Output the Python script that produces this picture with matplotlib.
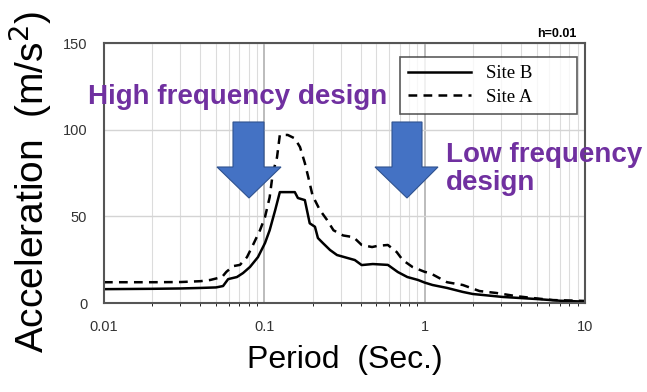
import matplotlib.pyplot as plt
from matplotlib.patches import Polygon

# response spectra (period in s, acceleration in m/s2)
site_b_t = [0.01, 0.02, 0.03, 0.04, 0.05, 0.0553, 0.0595, 0.0675, 0.0737, 0.0814, 0.0913,
            0.101, 0.108, 0.117, 0.125, 0.155, 0.162, 0.179, 0.192, 0.207, 0.216, 0.232,
            0.257, 0.284, 0.33, 0.367, 0.405, 0.475, 0.59, 0.68, 0.78, 0.91, 1.0, 1.12,
            1.38, 1.73, 2.0, 3.07, 5.0, 7.0, 10.0]
site_b_a = [8.0, 8.2, 8.4, 8.7, 9.0, 9.8, 13.8, 15.0, 17.3, 20.8, 26.5,
            34.6, 42.0, 53.7, 64.0, 64.0, 60.6, 59.4, 46.0, 44.0, 37.5, 34.6,
            30.6, 27.7, 26.0, 24.8, 21.9, 22.5, 22.0, 17.9, 15.0, 13.3, 11.8, 10.4,
            8.7, 6.4, 5.2, 3.5, 2.3, 1.3, 0.8]

site_a_t = [0.01, 0.02, 0.03, 0.04, 0.046, 0.0545, 0.058, 0.064, 0.0705, 0.078, 0.085,
            0.094, 0.101, 0.108, 0.113, 0.12, 0.125, 0.14, 0.155, 0.167, 0.179, 0.188,
            0.2, 0.222, 0.246, 0.27, 0.31, 0.36, 0.405, 0.47, 0.51, 0.59, 0.67, 0.73,
            0.84, 1.0, 1.08, 1.38, 1.73, 2.2, 2.8, 3.7, 4.7, 6.3, 10.0]
site_a_a = [12.0, 12.0, 12.1, 12.6, 13.3, 15.0, 18.0, 21.3, 22.0, 26.5, 33.5,
            42.0, 49.6, 61.0, 75.0, 84.0, 97.0, 97.0, 95.0, 90.0, 80.8, 72.7,
            62.0, 53.7, 48.0, 42.0, 39.0, 38.0, 33.5, 32.3, 33.0, 33.5, 29.4, 24.8,
            20.8, 18.0, 17.3, 12.0, 10.4, 6.9, 5.8, 4.0, 2.9, 1.7, 1.2]

xticks = [0.01, 0.1, 1, 10]
xtick_labels = ['0.01', '0.1', '1', '10']
yticks = [0, 50, 100, 150]

purple = '#7030A0'
blue = '#4472C4'

fig = plt.figure(figsize=(6.47, 3.92), dpi=100)
ax = fig.add_axes([0.1607, 0.227, 0.7434, 0.663])

ax.semilogx(site_b_t, site_b_a, '-', color='black', lw=1.8, label='Site B')
ax.semilogx(site_a_t, site_a_a, '--', color='black', lw=1.8, dashes=(3.5, 2.5), label='Site A')

ax.set_xlim(0.01, 10)
ax.set_ylim(0, 150)
ax.set_xticks(xticks)
ax.set_xticklabels(xtick_labels)
ax.set_yticks(yticks)
ax.tick_params(length=0, labelsize=10.5, labelcolor='#333333', pad=12)
for lab in ax.get_xticklabels() + ax.get_yticklabels():
    lab.set_family('Liberation Sans')

ax.grid(which='major', axis='x', color='#b0b0b0', lw=1.2)
ax.grid(which='minor', axis='x', color='#dcdcdc', lw=0.8)
ax.grid(which='major', axis='y', color='#d4d4d4', lw=1.0)
ax.set_axisbelow(True)
for s in ax.spines.values():
    s.set_color('#555555')
    s.set_linewidth(1.5)

ax.set_xlabel('Period  (Sec.)', fontsize=23, family='Liberation Sans', labelpad=8)
fig.text(0.046, 0.536, 'Acceleration  (m/s$^2$)', fontsize=28, family='Liberation Sans',
         rotation=90, ha='center', va='center')

leg = ax.legend(loc='upper left', bbox_to_anchor=(0.615, 0.946, 0.368, 0.0), mode='expand',
                prop={'family': 'Liberation Serif', 'size': 13.5}, frameon=True, fancybox=False,
                handlelength=3.4, handletextpad=0.8, labelspacing=0.35, borderpad=0.42,
                borderaxespad=0)
leg.get_frame().set_edgecolor('#333333')
leg.get_frame().set_linewidth(1.2)

fig.text(0.891, 0.912, 'h=0.01', fontsize=9, weight='bold', ha='right', va='center',
         family='Liberation Sans')

# block arrows in pixel space of the figure
W, H = 647.0, 392.0
def block_arrow(x0, x1, hx0, hx1, top, neck, tipx, tipy):
    pts = [(x0, top), (x1, top), (x1, neck), (hx1, neck), (tipx, tipy), (hx0, neck), (x0, neck)]
    pts = [(x / W, 1 - y / H) for x, y in pts]
    fig.patches.append(Polygon(pts, closed=True, transform=fig.transFigure,
                               facecolor=blue, edgecolor='#2F528F', lw=0.8, zorder=5))

block_arrow(233, 264, 217, 281, 122, 167, 249, 198)
block_arrow(392, 422, 375, 438, 122, 167, 407, 198)

fig.text(88 / W, 1 - 97 / H, 'High frequency design', fontsize=20, weight='bold', color=purple,
         family='Liberation Sans', ha='left', va='center', zorder=6)
fig.text(446 / W, 1 - 169 / H, 'Low frequency\ndesign', fontsize=20, weight='bold', color=purple,
         family='Liberation Sans', ha='left', va='center', linespacing=1.15, zorder=6)

fig.savefig('out.png', dpi=100)
